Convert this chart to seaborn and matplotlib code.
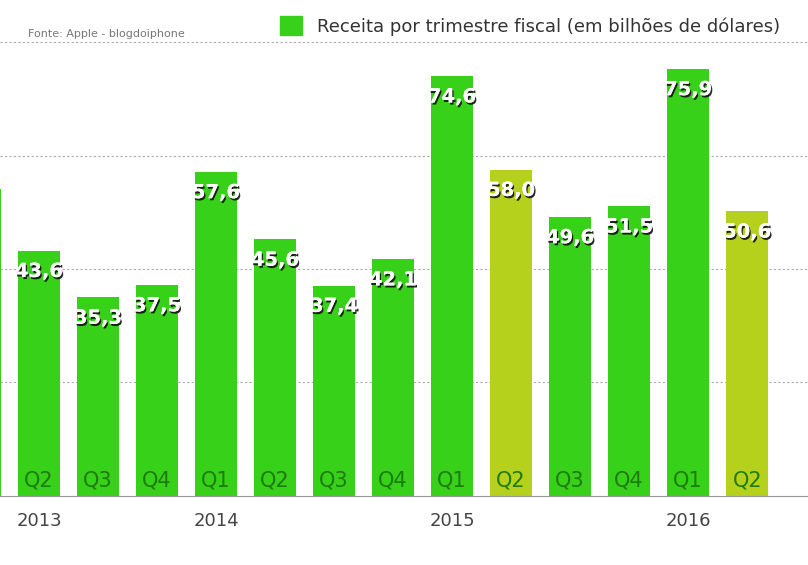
import matplotlib
matplotlib.use("Agg")
import matplotlib.pyplot as plt
import matplotlib.patheffects as pe
from matplotlib.patches import Patch
import seaborn as sns
import pandas as pd

quarters = ["Q1", "Q2", "Q3", "Q4", "Q1", "Q2", "Q3", "Q4", "Q1", "Q2", "Q3", "Q4", "Q1", "Q2"]
values = [54.5, 43.6, 35.3, 37.5, 57.6, 45.6, 37.4, 42.1, 74.6, 58.0, 49.6, 51.5, 75.9, 50.6]
kind = ["a", "a", "a", "a", "a", "a", "a", "a", "a", "b", "a", "a", "a", "b"]
year_labels = {1: "2013", 4: "2014", 8: "2015", 12: "2016"}
palette = {"a": "#36D118", "b": "#B6D11C"}

df = pd.DataFrame({"i": range(len(values)), "v": values, "k": kind})

fig = plt.figure(figsize=(8.08, 5.65), dpi=100)
ax = fig.add_axes([0, 0.122, 1, 0.807])
sns.barplot(data=df, x="i", y="v", hue="k", palette=palette, native_scale=True,
            width=0.71, dodge=False, legend=False, ax=ax, saturation=1)
ax.set_xlim(0.34, 14.03)
ax.set_ylim(0, 81)
ax.set_yticks([20.3, 40.4, 60.5, 80.7])
ax.yaxis.grid(True, linestyle=(0, (2, 2)), color="#aaaaaa", linewidth=0.8)
ax.set_axisbelow(True)
for s in ["top", "right", "left"]:
    ax.spines[s].set_visible(False)
ax.spines["bottom"].set_color("#999999")
ax.tick_params(left=False, labelleft=False, bottom=False, pad=8)
ax.set_xticks(list(year_labels.keys()))
ax.set_xticklabels(list(year_labels.values()), fontsize=13, color="#444444")
ax.set_xlabel(""); ax.set_ylabel("")

shadow = [pe.withSimplePatchShadow(offset=(1, -1.5), shadow_rgbFace="#111111", alpha=0.9), pe.Normal()]
for i, (v, q) in enumerate(zip(values, quarters)):
    t = ax.annotate(f"{v:.1f}".replace(".", ","), (i, v), xytext=(0, -15), textcoords="offset points",
                    ha="center", va="center", color="white", fontsize=14, fontweight="bold")
    t.set_path_effects(shadow)
    if i > 0:
        ax.text(i, 1, q, ha="center", va="bottom", fontsize=15, color="#1f7a10")

fig.text(0.035, 0.935, "Fonte: Apple - blogdoiphone", fontsize=8, color="#777777")
fig.legend(handles=[Patch(color="#36D118")],
           labels=["Receita por trimestre fiscal (em bilhões de dólares)"],
           loc="upper right", bbox_to_anchor=(0.985, 1.0), frameon=False, fontsize=13,
           handlelength=1.2, handleheight=1.2, labelcolor="#333333")
fig.savefig("out.png", dpi=100)
